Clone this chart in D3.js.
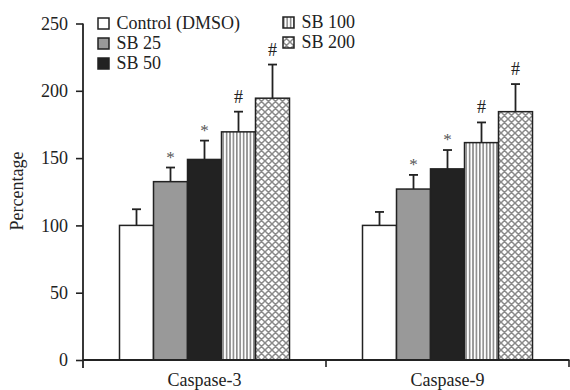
<!DOCTYPE html>
<html>
<head>
<meta charset="utf-8">
<script src="https://cdn.jsdelivr.net/npm/d3@7"></script>
<style>
  body { margin: 0; background: #fff; }
</style>
</head>
<body>
<div id="chart"></div>
<script>
let groups = ["Caspase-3", "Caspase-9"];
let series = ["Control (DMSO)", "SB 25", "SB 50", "SB 100", "SB 200"];
let caspase3 = [100, 132.5, 149, 169.5, 194.5];
let caspase9 = [100, 127, 142, 161.5, 184.5];
let err3 = [12, 10.5, 14, 15, 25];
let err9 = [10, 10.5, 14, 15, 20.5];
let marks = ["", "*", "*", "#", "#"];
let yTicks = [0, 50, 100, 150, 200, 250];

let values = [caspase3, caspase9];
let errors = [err3, err9];
let serif = "'Liberation Serif', 'Times New Roman', Times, serif";

let width = 570, height = 390;
let svg = d3.select("#chart").append("svg")
    .attr("width", width)
    .attr("height", height);

let defs = svg.append("defs");

// vertical stripes
let stripes = defs.append("pattern")
    .attr("id", "stripes")
    .attr("patternUnits", "userSpaceOnUse")
    .attr("width", 3.4).attr("height", 10);
stripes.append("rect").attr("width", 3.4).attr("height", 10).attr("fill", "#fff");
stripes.append("rect").attr("x", 0).attr("width", 1.6).attr("height", 10).attr("fill", "#8a8a8a");

// cross hatch (diamond lattice)
let hatch = defs.append("pattern")
    .attr("id", "hatch")
    .attr("patternUnits", "userSpaceOnUse")
    .attr("width", 7).attr("height", 7);
hatch.append("rect").attr("width", 7).attr("height", 7).attr("fill", "#fff");
hatch.append("path")
    .attr("d", "M0,0L7,7M7,0L0,7M-1,6L1,8M6,-1L8,1M-1,1L1,-1M6,8L8,6")
    .attr("stroke", "#8a8a8a").attr("stroke-width", 1.5);

let fills = ["#fff", "#999", "#222", "url(#stripes)", "url(#hatch)"];

let x0 = d3.scaleBand().domain(groups).range([83, 569]);
let inner = 170;
let x1 = d3.scaleBand().domain(series)
    .range([(x0.bandwidth() - inner) / 2, (x0.bandwidth() + inner) / 2]);
let y = d3.scaleLinear().domain([0, 250]).range([360, 23.5]);

// bars
groups.forEach((g, gi) => {
    let grp = svg.append("g").attr("transform", "translate(" + x0(g) + ",0)");
    series.forEach((s, si) => {
        let v = values[gi][si];
        let e = errors[gi][si];
        let cx = x1(s) + x1.bandwidth() / 2;
        grp.append("line")
            .attr("x1", cx).attr("x2", cx)
            .attr("y1", y(v)).attr("y2", y(v + e))
            .attr("stroke", "#222").attr("stroke-width", 1.8);
        grp.append("line")
            .attr("x1", cx - 4.5).attr("x2", cx + 4.5)
            .attr("y1", y(v + e)).attr("y2", y(v + e))
            .attr("stroke", "#222").attr("stroke-width", 1.8);
        grp.append("rect")
            .attr("x", x1(s))
            .attr("y", y(v))
            .attr("width", x1.bandwidth())
            .attr("height", y(0) - y(v))
            .attr("fill", fills[si])
            .attr("stroke", "#222").attr("stroke-width", 1.5);
        if (marks[si]) {
            grp.append("text")
                .attr("x", cx)
                .attr("y", y(v + e) - (marks[si] == "*" ? 5 : 9))
                .attr("text-anchor", "middle")
                .style("font-size", marks[si] == "*" ? "17px" : "18px")
                .style("fill", marks[si] == "*" ? "#555" : "#222")
                .text(marks[si]);
        }
    });
});

// y axis
let yAxis = svg.append("g")
    .attr("transform", "translate(83,0)")
    .call(d3.axisLeft(y).tickValues(yTicks).tickSize(7).tickPadding(8).tickSizeOuter(0));
yAxis.select(".domain").attr("stroke", "#222").attr("stroke-width", 1.8)
    .attr("d", "M0," + y(250) + "V" + (y(0) + 8));
yAxis.selectAll(".tick line").attr("stroke", "#222").attr("stroke-width", 1.6);
yAxis.selectAll(".tick text").style("font-size", "18px").attr("fill", "#222");

// x axis
let xEnds = groups.map(g => x0(g)).concat([x0(groups[groups.length - 1]) + x0.bandwidth()]);
svg.append("line")
    .attr("x1", 83).attr("x2", 569.5)
    .attr("y1", y(0)).attr("y2", y(0))
    .attr("stroke", "#222").attr("stroke-width", 1.8);
xEnds.slice(1).forEach(xv => {
    svg.append("line")
        .attr("x1", xv).attr("x2", xv)
        .attr("y1", y(0)).attr("y2", y(0) + 7)
        .attr("stroke", "#222").attr("stroke-width", 1.6);
});
groups.forEach(g => {
    svg.append("text")
        .attr("x", x0(g) + x0.bandwidth() / 2)
        .attr("y", 386)
        .attr("text-anchor", "middle")
        .style("font-size", "18px")
        .text(g);
});

// y label
svg.append("text")
    .attr("transform", "translate(22.5,191) rotate(-90)")
    .attr("text-anchor", "middle")
    .style("font-size", "18px")
    .text("Percentage");

// legend
let legendPos = [[98, 23], [98, 43], [98, 63], [283, 22], [283, 42]];
series.forEach((s, i) => {
    let lg = svg.append("g").attr("transform", "translate(" + legendPos[i][0] + "," + legendPos[i][1] + ")");
    lg.append("rect")
        .attr("x", 0).attr("y", -5)
        .attr("width", 11).attr("height", 11)
        .attr("fill", fills[i])
        .attr("stroke", "#222").attr("stroke-width", 1.5);
    lg.append("text")
        .attr("x", 18.5).attr("y", 6)
        .style("font-size", "18px")
        .text(s);
});

svg.selectAll("text").style("font-family", serif);
svg.selectAll("text").filter(function() { return !this.style.fill; }).style("fill", "#222");
</script>
</body>
</html>
